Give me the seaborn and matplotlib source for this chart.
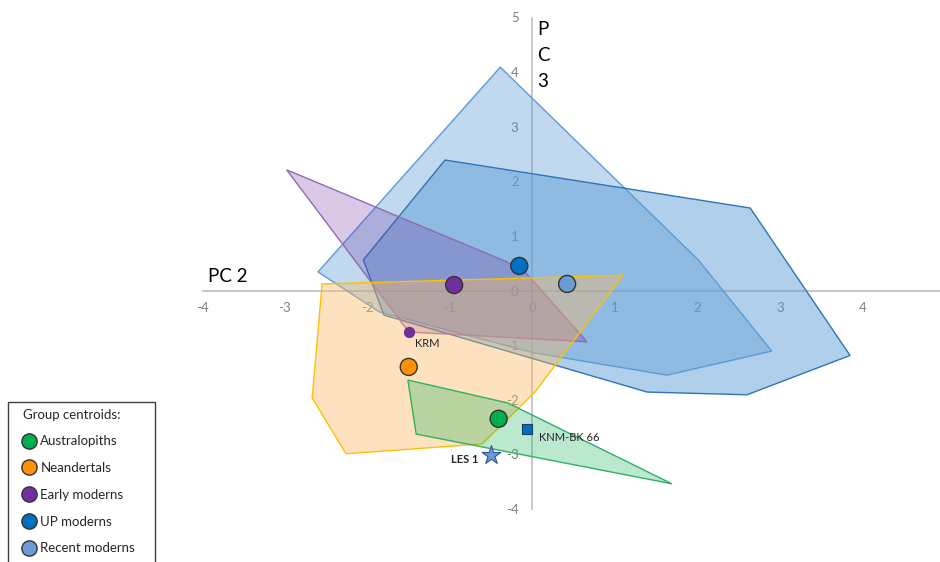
import numpy as np
import pandas as pd
import matplotlib
matplotlib.use("Agg")
import matplotlib.pyplot as plt
from matplotlib.colors import to_rgba
from matplotlib.lines import Line2D
from matplotlib.patches import Rectangle
import seaborn as sns

sns.set_style("white")
plt.rcParams['font.family'] = ['Lato', 'DejaVu Sans']
plt.rcParams['axes.unicode_minus'] = False

# convex hulls of each group (PC2, PC3)
recent_x = [-0.39, 2.01, 2.90, 1.63, 0.01, -1.86, -2.60]
recent_y = [4.09, 0.56, -1.11, -1.55, -1.14, -0.39, 0.34]
up_x = [-1.06, 2.64, 3.85, 2.60, 1.39, -1.80, -2.05]
up_y = [2.39, 1.51, -1.19, -1.91, -1.86, -0.45, 0.56]
early_x = [-2.98, -0.13, 0.66, -1.50]
early_y = [2.21, 0.41, -0.94, -0.76]
nean_x = [-2.55, 1.10, 0.03, -0.61, -2.26, -2.67]
nean_y = [0.12, 0.28, -1.86, -2.81, -2.99, -1.97]
aus_x = [-1.51, -0.30, 1.69, -1.41]
aus_y = [-1.64, -2.06, -3.54, -2.63]

# group centroids
groups = ['Australopiths', 'Neandertals', 'Early moderns', 'UP moderns', 'Recent moderns']
cent_x = [-0.41, -1.50, -0.95, -0.16, 0.42]
cent_y = [-2.35, -1.40, 0.10, 0.45, 0.12]
colors = ['#00b050', '#ff9000', '#7030a0', '#0070c0', '#6b9bd2']

# individual specimens
krm = (-1.50, -0.76)
knm = (-0.07, -2.54)
les = (-0.50, -3.02)

fig = plt.figure(figsize=(9.4, 5.62), dpi=100)
ax = fig.add_axes([202.5 / 940, 1 - 508.9 / 562, 737.5 / 940, 491.4 / 562])

hulls = [
    (recent_x, recent_y, '#5b9bd5', 0.38, '#5b9bd5'),
    (up_x, up_y, '#5b9bd5', 0.48, '#2e75b6'),
    (early_x, early_y, '#7030a0', 0.26, '#8e6bb0'),
    (nean_x, nean_y, '#fdb863', 0.40, '#ffc000'),
    (aus_x, aus_y, '#00b050', 0.27, '#2fb064'),
]
for hx, hy, fc, a, ec in hulls:
    ax.fill(hx, hy, facecolor=to_rgba(fc, a), edgecolor=ec, linewidth=1, zorder=1)

df = pd.DataFrame({'group': groups, 'pc2': cent_x, 'pc3': cent_y})
sns.scatterplot(data=df, x='pc2', y='pc3', hue='group', palette=colors,
                s=150, edgecolor='#333333', linewidth=1, legend=False, ax=ax, zorder=5)

# specimens
ax.scatter([krm[0]], [krm[1]], s=55, color='#7030a0', edgecolor='#5a2a80', linewidth=0.6, zorder=6)
ax.scatter([knm[0]], [knm[1]], s=45, marker='s', color='#0070c0', edgecolor='#1f3864', linewidth=0.8, zorder=6)
ax.scatter([les[0]], [les[1]], s=200, marker='*', color='#6b9bd2', edgecolor='#2f5597', linewidth=0.8, zorder=6)
ax.annotate('KRM', krm, xytext=(4.3, -8), textcoords='offset points',
            fontsize=8, color='#262626', va='center', ha='left')
ax.annotate('KNM-BK 66', knm, xytext=(8.6, -5.8), textcoords='offset points',
            fontsize=8, color='#262626', va='center', ha='left')
ax.annotate('LES 1', les, xytext=(-9.4, -2.9), textcoords='offset points',
            fontsize=8, fontweight='bold', color='#262626', va='center', ha='right')

# axes crossing at zero, Excel style
ax.set_xlim(-4, 4.94)
ax.set_ylim(-4, 5)
for s in ['top', 'right']:
    ax.spines[s].set_visible(False)
ax.spines['left'].set_position(('data', 0))
ax.spines['bottom'].set_position(('data', 0))
for s in ['left', 'bottom']:
    ax.spines[s].set_color('#bfbfbf')
    ax.spines[s].set_linewidth(1.2)
    ax.spines[s].set_zorder(0.5)
ax.set_axisbelow(True)
ax.set_xticks(range(-4, 5))
ax.set_yticks(range(-4, 6))
ax.tick_params(axis='x', length=0, labelsize=9.5, labelcolor='#7f7f7f', pad=8)
ax.tick_params(axis='y', length=0, labelsize=9.5, labelcolor='#7f7f7f', pad=10)
ax.set_xlabel('')
ax.set_ylabel('')

ax.text(-3.93, 0.16, 'PC 2', fontsize=13.5, color='black', va='baseline', ha='left')
ax.text(0.055, 4.93, 'P\nC\n3', fontsize=13.5, color='black', va='top', ha='left', linespacing=1.62)

# legend box
fig.patches.append(Rectangle((8 / 940, -0.004), 147 / 940, 0.289, transform=fig.transFigure,
                             facecolor='white', edgecolor='#404040', linewidth=1, clip_on=False))
handles = [Line2D([], [], marker='o', linestyle='', markersize=11, markerfacecolor=c,
                  markeredgecolor='#333333', markeredgewidth=1) for c in colors]
fig.legend(handles, groups, loc='upper left', bbox_to_anchor=(12 / 940, 1 - 398 / 562),
           frameon=False, title='Group centroids:', alignment='left', fontsize=9.5,
           title_fontsize=9.5, labelspacing=1.12, handletextpad=0.35, handlelength=1.0,
           borderpad=0.3)

fig.savefig('out.png', dpi=100)
